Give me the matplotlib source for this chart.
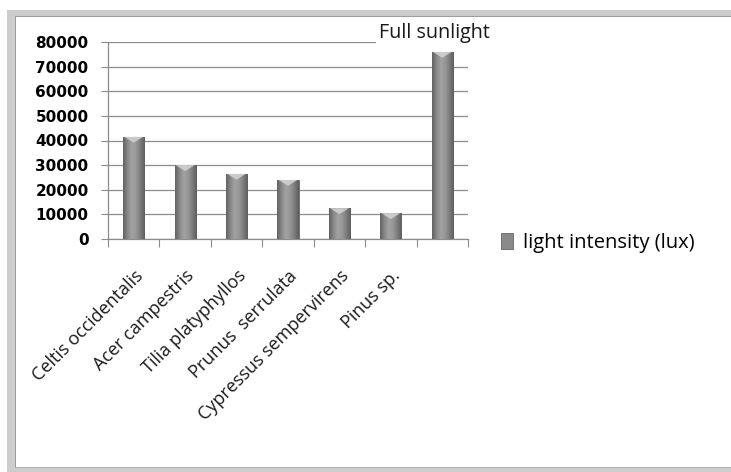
import matplotlib
matplotlib.use("Agg")
import matplotlib.pyplot as plt
import numpy as np
from matplotlib.patches import Rectangle, Polygon
from matplotlib.colors import LinearSegmentedColormap

categories = ["Celtis occidentalis", "Acer campestris", "Tilia platyphyllos",
              "Prunus  serrulata", "Cypressus sempervirens", "Pinus sp.", ""]
values = [41500, 30000, 26500, 24000, 12500, 10500, 76000]
yticks = [0, 10000, 20000, 30000, 40000, 50000, 60000, 70000, 80000]
series_name = "light intensity (lux)"
note = "Full sunlight"

W, H = 731, 472
fig = plt.figure(figsize=(W / 100, H / 100), dpi=100)
fig.patch.set_facecolor("white")


def px_rect(x0, y0, x1, y1, color, z=0):
    r = Rectangle((x0 / W, 1 - y1 / H), (x1 - x0) / W, (y1 - y0) / H,
                  transform=fig.transFigure, facecolor=color, edgecolor="none", zorder=z)
    fig.add_artist(r)


# picture frame (left, top, bottom strips)
px_rect(7, 10, 16, 472, "#cdcdcd")
px_rect(7, 10, 731, 17, "#cdcdcd")
px_rect(7, 467, 731, 472, "#cdcdcd")
px_rect(15, 17, 16.3, 467, "#9c9c9c")
px_rect(15, 16, 731, 17.3, "#9c9c9c")
px_rect(15, 466.5, 731, 467.5, "#b0b0b0")

ax = fig.add_axes([108 / W, 1 - 239 / H, (468 - 108) / W, (239 - 42) / H])
ax.set_facecolor("none")
x = np.arange(len(categories))
bars = ax.bar(x, values, width=0.41, color="#8a8a8a", edgecolor="#666666",
              linewidth=0.6, zorder=3, label=series_name)

cmap = LinearSegmentedColormap.from_list(
    "cyl", ["#626262", "#888888", "#a2a2a2", "#979797", "#7c7c7c", "#5e5e5e"])
grad = np.linspace(0, 1, 64).reshape(1, -1)
for b in bars:
    x0, w, h = b.get_x(), b.get_width(), b.get_height()
    im = ax.imshow(grad, extent=[x0, x0 + w, 0, h], aspect="auto", cmap=cmap,
                   zorder=3.5, origin="lower")
    im.set_clip_path(b)
    cap = 2400
    tri = Polygon([[x0 + w * 0.05, h], [x0 + w * 0.95, h], [x0 + w * 0.5, h - cap]],
                  closed=True, facecolor="#d4d4d4", edgecolor="none", alpha=0.85, zorder=4)
    ax.add_patch(tri)

ax.set_xlim(-0.5, len(categories) - 0.5)
ax.set_ylim(0, 80000)
ax.set_yticks(yticks)
ax.set_yticklabels([str(v) for v in yticks], fontfamily="DejaVu Sans",
                   fontweight="bold", fontsize=11, color="black")
ax.tick_params(axis="y", length=5, width=0.8, color="#8c8c8c", pad=9)
ax.grid(axis="y", color="#8c8c8c", linewidth=0.9, zorder=1)
ax.set_axisbelow(True)

ax.set_xticks(x)
ax.set_xticklabels(categories, rotation=45, ha="right", rotation_mode="anchor",
                   fontfamily="Open Sans", fontsize=13, color="#1a1a1a")
ax.tick_params(axis="x", which="major", length=0, pad=20)
ax.set_xticks(np.arange(len(categories) + 1) - 0.5, minor=True)
ax.tick_params(axis="x", which="minor", length=6, width=0.8, color="#8c8c8c")

for s in ["top", "right"]:
    ax.spines[s].set_visible(False)
for s in ["left", "bottom"]:
    ax.spines[s].set_color("#8c8c8c")
    ax.spines[s].set_linewidth(0.9)

leg = ax.legend(loc="center left", bbox_to_anchor=(483 / W, 1 - 243 / H),
                bbox_transform=fig.transFigure, frameon=False, handlelength=0.6,
                handleheight=0.8, handletextpad=0.5,
                prop={"family": "Open Sans", "size": 14.5})

fig.text(379 / W, 1 - 33 / H, note, fontfamily="Open Sans", fontsize=14.2,
         ha="left", va="center", color="#1a1a1a",
         bbox=dict(facecolor="white", edgecolor="none", pad=2), zorder=10)

fig.savefig("out.png", dpi=100, facecolor="white")
